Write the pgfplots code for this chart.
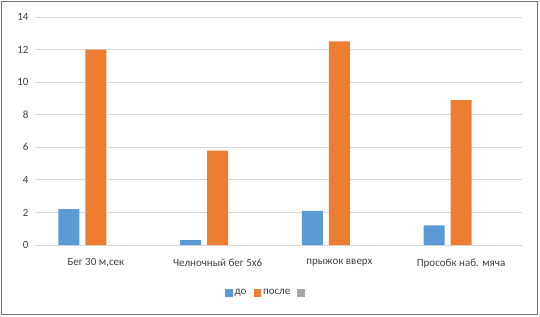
\documentclass[border=0pt]{standalone}
\usepackage{fontspec}
\setmainfont{Carlito}
\usepackage{pgfplots}
\pgfplotsset{compat=1.18}
\definecolor{cblue}{HTML}{5B9BD5}
\definecolor{corange}{HTML}{ED7D31}
\definecolor{cgray}{HTML}{A5A5A5}
\definecolor{ctext}{HTML}{404040}
\definecolor{cgrid}{HTML}{D9D9D9}
\begin{document}
\begin{tikzpicture}
\useasboundingbox (-35pt,-71pt) rectangle (505pt,245pt);
\draw[draw=black!55, line width=1pt] (-33pt,-69pt) rectangle (502pt,243pt);
\begin{axis}[
  at={(0pt,0pt)}, anchor=south west,
  scale only axis, width=487pt, height=228pt,
  ybar=6pt, bar width=21pt,
  xmin=-0.5, xmax=3.5, ymin=0, ymax=14,
  ytick={0,2,...,14},
  xtick={0,1,2,3},
  xticklabels={{Бег 30 м,сек},{Челночный бег 5х6},{прыжок вверх},{Прособк наб. мяча}},
  ymajorgrids, grid style={cgrid, line width=0.8pt},
  axis line style={draw=none},
  major tick style={draw=none},
  tick label style={font=\fontsize{11}{13}\selectfont, text=ctext},
  /pgf/number format/assume math mode=true,
  yticklabel style={xshift=-3pt},
  xticklabel style={yshift=-6pt},
  legend style={at={(232pt,-48pt)}, anchor=center, draw=none, legend columns=3,
    font=\fontsize{11}{13}\selectfont, text=ctext,
    /tikz/every even column/.append style={column sep=5pt}},
  legend image code/.code={\fill[#1] (0pt,-3.5pt) rectangle (7.5pt,4pt);},
]
\addplot[fill=cblue, draw=none] coordinates {(0,2.2) (1,0.3) (2,2.1) (3,1.2)};
\addlegendentry{до}
\addplot[fill=corange, draw=none] coordinates {(0,12.0) (1,5.8) (2,12.5) (3,8.9)};
\addlegendentry{после}
\addplot[fill=cgray, draw=none] coordinates {(0,0) (1,0) (2,0) (3,0)};
\addlegendentry{\mbox{}}
\end{axis}
\end{tikzpicture}
\end{document}
